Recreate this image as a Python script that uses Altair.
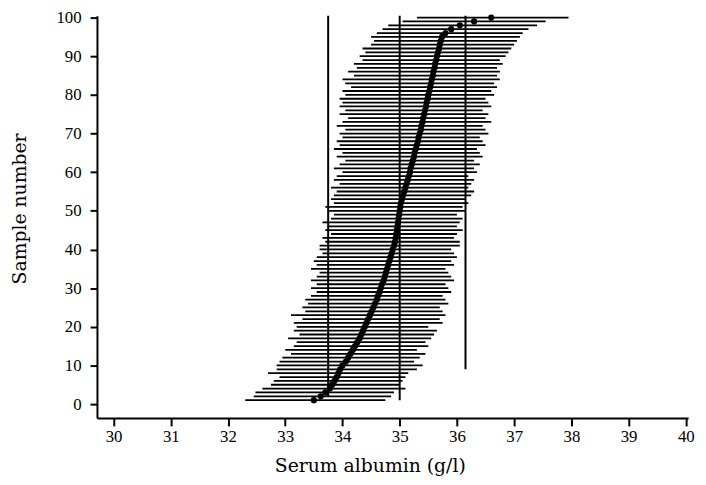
import altair as alt
import pandas as pd

# ---- data ----
sample = list(range(1, 101))

mean = [33.50, 33.62, 33.70, 33.78, 33.82, 33.86, 33.90, 33.93, 33.96, 34.00,
        34.06, 34.10, 34.14, 34.18, 34.22, 34.26, 34.30, 34.33, 34.36, 34.39,
        34.42, 34.45, 34.48, 34.51, 34.54, 34.57, 34.60, 34.62, 34.65, 34.67,
        34.69, 34.72, 34.74, 34.76, 34.78, 34.80, 34.82, 34.84, 34.86, 34.88,
        34.90, 34.92, 34.93, 34.94, 34.95, 34.96, 34.97, 34.98, 34.99, 35.00,
        35.01, 35.02, 35.04, 35.06, 35.08, 35.10, 35.12, 35.14, 35.16, 35.18,
        35.19, 35.21, 35.23, 35.25, 35.26, 35.28, 35.30, 35.32, 35.33, 35.35,
        35.37, 35.38, 35.40, 35.41, 35.43, 35.44, 35.46, 35.47, 35.49, 35.50,
        35.52, 35.53, 35.55, 35.56, 35.58, 35.59, 35.61, 35.62, 35.64, 35.65,
        35.67, 35.69, 35.70, 35.72, 35.74, 35.80, 35.90, 36.05, 36.30, 36.60]

lower = [32.30, 32.45, 32.48, 32.60, 32.75, 32.80, 32.90, 32.70, 32.85, 32.85,
         32.90, 32.95, 33.10, 33.00, 33.15, 33.20, 33.05, 33.25, 33.15, 33.20,
         33.15, 33.30, 33.10, 33.35, 33.30, 33.40, 33.35, 33.45, 33.55, 33.45,
         33.55, 33.45, 33.55, 33.60, 33.45, 33.55, 33.50, 33.55, 33.65, 33.60,
         33.60, 33.70, 33.65, 33.80, 33.70, 33.75, 33.65, 33.80, 33.85, 33.75,
         33.70, 33.85, 33.80, 33.85, 33.90, 33.80, 33.95, 33.85, 33.90, 34.00,
         33.85, 33.95, 34.05, 33.90, 34.00, 33.85, 33.95, 33.90, 34.00, 33.95,
         34.05, 33.90, 34.00, 34.10, 33.95, 34.05, 33.95, 34.00, 33.95, 34.05,
         34.00, 34.15, 34.05, 34.00, 34.20, 34.10, 34.25, 34.20, 34.35, 34.30,
         34.40, 34.35, 34.50, 34.55, 34.50, 34.60, 34.70, 34.80, 35.05, 35.30]

upper = [34.75, 34.85, 34.90, 35.10, 35.00, 35.05, 35.10, 35.15, 35.30, 35.40,
         35.25, 35.35, 35.45, 35.30, 35.50, 35.45, 35.55, 35.60, 35.65, 35.50,
         35.75, 35.70, 35.80, 35.75, 35.70, 35.85, 35.80, 35.75, 35.90, 35.85,
         35.80, 35.95, 35.90, 35.85, 35.80, 35.95, 35.90, 36.00, 35.95, 35.90,
         36.05, 36.05, 35.95, 36.00, 36.10, 36.00, 36.05, 36.10, 36.00, 36.15,
         36.10, 36.20, 36.15, 36.25, 36.30, 36.20, 36.25, 36.30, 36.20, 36.35,
         36.30, 36.40, 36.30, 36.45, 36.40, 36.35, 36.50, 36.45, 36.40, 36.55,
         36.50, 36.45, 36.60, 36.50, 36.55, 36.45, 36.60, 36.55, 36.50, 36.65,
         36.60, 36.70, 36.65, 36.75, 36.70, 36.75, 36.70, 36.80, 36.75, 36.85,
         36.90, 36.95, 37.00, 37.05, 37.10, 37.15, 37.25, 37.40, 37.55, 37.95]

ref_x = [33.75, 35.0, 36.15]
ref_from = [2.0, 1.0, 9.0]
ref_to = [100.5, 100.5, 100.5]

x_ticks = list(range(30, 41))
y_ticks = list(range(0, 101, 10))

x_title = "Serum albumin (g/l)"
y_title = "Sample number"

df = pd.DataFrame({"sample": sample, "mean": mean, "lower": lower, "upper": upper})
ref_df = pd.DataFrame({"x": ref_x, "y1": ref_from, "y2": ref_to})

W, H = 598, 407
xscale = alt.Scale(domain=[29.71, 40.04], nice=False, zero=False)
yscale = alt.Scale(domain=[-3.6, 100.5], nice=False, zero=False)

tick_font = "Liberation Serif"
title_font = "DejaVu Serif"

xaxis = alt.Axis(values=x_ticks, format="d", tickSize=8, tickWidth=2, domainWidth=2,
                 labelPadding=3, labelFont=tick_font, labelFontSize=17, labelColor="black",
                 domainColor="black", tickColor="black", grid=False,
                 title=x_title, titleFont=title_font, titleFontSize=19,
                 titleFontWeight="normal", titleColor="black",
                 titleX=276, titleY=48, titleAlign="center", titleBaseline="middle")
yaxis = alt.Axis(values=y_ticks, format="d", tickSize=7, tickWidth=2, domainWidth=2,
                 labelPadding=9, labelFont=tick_font, labelFontSize=17, labelColor="black",
                 domainColor="black", tickColor="black", grid=False,
                 title=y_title, titleFont=title_font, titleFontSize=19,
                 titleFontWeight="normal", titleColor="black", titleAngle=270,
                 titleX=-78, titleY=195, titleAlign="center", titleBaseline="middle")

intervals = alt.Chart(df).mark_rule(color="black", strokeWidth=1.8).encode(
    x=alt.X("lower:Q", scale=xscale, axis=xaxis),
    x2="upper:Q",
    y=alt.Y("sample:Q", scale=yscale, axis=yaxis),
)

points = alt.Chart(df).mark_circle(color="black", opacity=1, size=40).encode(
    x=alt.X("mean:Q", scale=xscale),
    y=alt.Y("sample:Q", scale=yscale),
)

refs = alt.Chart(ref_df).mark_rule(color="black", strokeWidth=2).encode(
    x=alt.X("x:Q", scale=xscale),
    y=alt.Y("y1:Q", scale=yscale),
    y2="y2:Q",
)

chart = alt.layer(intervals, refs, points).properties(
    width=W, height=H,
    autosize=alt.AutoSizeParams(type="none"),
    padding={"left": 90, "top": 5, "right": 10, "bottom": 60},
    background="white",
).configure_view(stroke=None)

chart.save("out.html", embed_options={"renderer": "svg", "actions": False})
